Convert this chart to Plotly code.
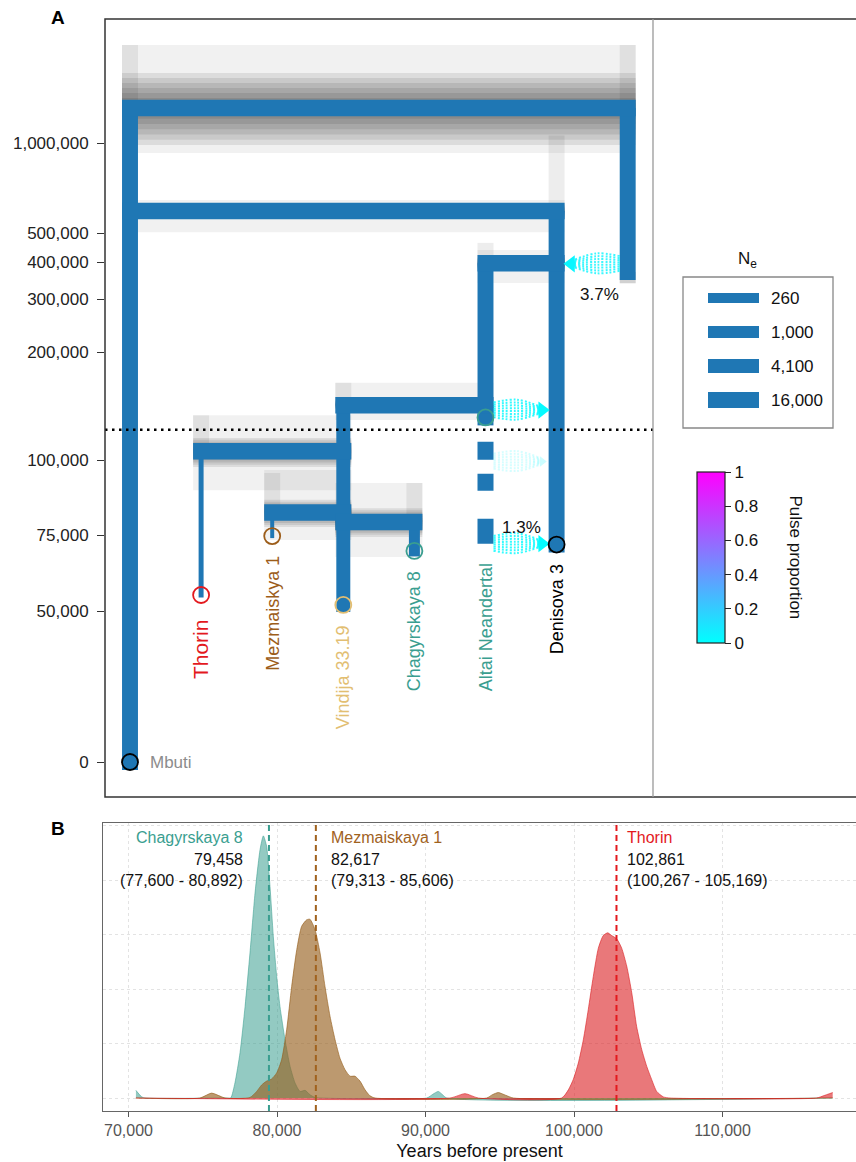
import math
import plotly.graph_objects as go

W, H = 856, 1162
FONT = "Liberation Sans, Arial, Helvetica, sans-serif"
BLUE = "#1F77B4"

# ---------------- Panel A data ----------------
# columns: 0 Mbuti, 1 Thorin, 2 Mezmaiskya 1, 3 Vindija 33.19, 4 Chagyrskaya 8,
#          5 Altai Neandertal, 6 Denisova 3, 7 ghost
lin_col = [0, 7, 6, 5, 5, 3, 1, 2, 4]
lin_start = [1310000, 1310000, 593000, 397000, 133000, 133000, 102861, 82617, 79458]
lin_end = [0, 371000, 72000, 133000, 121000, 52000, 55300, 74800, 69900]
lin_ne = [16000, 16000, 16000, 16000, 16000, 4100, 8, 4, 520]

altai_tail_start = 121000
altai_tail_end = 72300

split_time = [1310000, 593000, 397000, 133000, 102861, 82617, 79458]
split_left = [0, 0, 5, 3, 1, 2, 3]
split_right = [7, 6, 6, 5, 3, 3, 4]
unc_hi = [2130000, 646000, 439000, 158000, 123000, 96700, 92400]
unc_lo = [927000, 504000, 341000, 118600, 90000, 73500, 67900]
core_hi = [1716000, 625000, 415000, 138000, 107300, 86800, 84000]
core_lo = [986000, 565000, 380000, 129000, 97700, 77800, 74500]
child_cols = [[0, 7], [6], [5], [3], [1], [2], [4]]
child_hi = [2130000, 1060000, 464000, 158000, 123000, 95700, 92400]
ghost_end_lo = 340000

sample_names = ["Mbuti", "Thorin", "Mezmaiskya 1", "Vindija 33.19",
                "Chagyrskaya 8", "Altai Neandertal", "Denisova 3"]
sample_col = [0, 1, 2, 3, 4, 5, 6]
sample_time = [0, 55300, 74800, 52000, 69900, 121000, 72000]
sample_color = ["#000000", "#E3191E", "#9C5D1A", "#E2BE72", "#3A9E90", "#3A9E90", "#000000"]
label_color = ["#8C8C8C", "#E3191E", "#9C5D1A", "#E2BE72", "#3A9E90", "#3A9E90", "#000000"]

pulse_src = [7, 5, 5, 5]
pulse_dst = [6, 6, 6, 6]
pulse_time = [395000, 128000, 99500, 72300]
pulse_prop = [0.037, 0.02, 0.02, 0.013]
pulse_label = ["3.7%", "", "", "1.3%"]
pulse_support = [1.0, 1.0, 0.2, 1.0]

ytick_vals = [0, 50000, 75000, 100000, 200000, 300000, 400000, 500000, 1000000]
ne_legend = [260, 1000, 4100, 16000]
pulse_ticks = [0, 0.2, 0.4, 0.6, 0.8, 1]

# ---------------- Panel B data ----------------
chag_x = [70500, 70890, 71110, 76610, 76880, 77170, 77510, 77850, 78180, 78520, 78860,
          79080, 79300, 79530, 79750, 79980, 80200, 80540, 80880, 81210, 81550, 81890,
          82220, 82560, 82900, 90080, 90500, 90860, 91150, 91430, 117420]
chag_y = [0.14, 0.02, 0.0, 0.0, 0.0, 0.28, 0.83, 1.68, 2.66, 3.76, 4.56,
          4.81, 4.62, 3.88, 2.97, 2.23, 1.68, 1.07, 0.58, 0.28, 0.12, 0.14,
          0.06, 0.01, 0.0, 0.0, 0.07, 0.12, 0.06, 0.0, 0.0]
mez_x = [70500, 74810, 75600, 76500, 78180, 78630, 78970, 79300, 79640, 79980, 80310,
         80650, 80990, 81330, 81660, 82000, 82220, 82560, 82900, 83230, 83570, 83910,
         84240, 84580, 84920, 85250, 85590, 85930, 86260, 86600, 94120, 94500, 94900,
         95400, 95920, 117420]
mez_y = [0, 0, 0.09, 0, 0.01, 0.12, 0.24, 0.31, 0.35, 0.46, 0.70,
         1.25, 2.05, 2.72, 3.15, 3.27, 3.28, 3.09, 2.66, 2.05, 1.50, 1.07,
         0.73, 0.52, 0.40, 0.40, 0.31, 0.15, 0.04, 0, 0, 0.06, 0.10,
         0.05, 0, 0]
thorin_x = [70500, 91650, 92660, 93560, 99170, 99620, 99950, 100290, 100630, 100960,
            101300, 101640, 101970, 102270, 102540, 102880, 103210, 103550, 103890,
            104220, 104560, 104900, 105230, 105570, 106020, 106470, 116340, 116790, 117420]
thorin_y = [0, 0, 0.08, 0, 0, 0.15, 0.34, 0.64, 1.07, 1.62,
            2.23, 2.75, 2.98, 3.03, 2.98, 2.92, 2.75, 2.42, 1.93,
            1.31, 0.89, 0.58, 0.34, 0.12, 0.02, 0, 0, 0.04, 0.10]

b_names = ["Chagyrskaya 8", "Mezmaiskaya 1", "Thorin"]
b_median = [79458, 82617, 102861]
b_ci = ["(77,600 - 80,892)", "(79,313 - 85,606)", "(100,267 - 105,169)"]
b_color = ["#3A9E90", "#A0621E", "#E3191E"]
b_fill = ["rgba(58,158,144,0.55)", "rgba(150,95,30,0.64)", "rgba(218,30,34,0.6)"]
b_xticks = [70000, 80000, 90000, 100000, 110000]

# ---------------- scales ----------------
PX_COL = 71.1        # pixels between lineage columns
def T(t):
    """linear below 110 ka, logarithmic above (units = pixels)"""
    if t <= 110000:
        return 3.02 * t / 1000.0
    return 332.2 + 299.0 * math.log10(t / 110000.0)

def ne_width(ne):
    return 10 + math.log2(ne / 260.0)

def pxp(x):
    return x / W

def pyp(y):
    return 1 - y / H

def fmt(v):
    return f"{v:,}"

def cool(v):
    r = int(round(255 * v)); g = int(round(255 * (1 - v)))
    return f"rgb({r},{g},255)"

fig = go.Figure()
shapes = []
annotations = []

HW = 8 / PX_COL   # half-width of a column in data units

# uncertainty shading
for i, t in enumerate(split_time):
    x0 = split_left[i] - HW
    x1 = split_right[i] + HW
    shapes.append(dict(type="rect", xref="x", yref="y", x0=x0, x1=x1,
                       y0=T(unc_lo[i]), y1=T(unc_hi[i]), layer="below",
                       fillcolor="rgba(0,0,0,0.055)", line_width=0))
    n = 7
    tc = T(t)
    for k in range(n):
        f = k / n
        ylo = T(core_lo[i]) + (tc - T(core_lo[i])) * f
        yhi = T(core_hi[i]) + (tc - T(core_hi[i])) * f
        shapes.append(dict(type="rect", xref="x", yref="y", x0=x0, x1=x1,
                           y0=ylo, y1=yhi, layer="below",
                           fillcolor="rgba(0,0,0,0.085)", line_width=0))
    for c in child_cols[i]:
        shapes.append(dict(type="rect", xref="x", yref="y", x0=c - HW, x1=c + HW,
                           y0=tc, y1=T(child_hi[i]), layer="below",
                           fillcolor="rgba(0,0,0,0.07)", line_width=0))
# fading end of ghost lineage
shapes.append(dict(type="rect", xref="x", yref="y", x0=7 - HW, x1=7 + HW,
                   y0=T(ghost_end_lo), y1=T(lin_end[1]), layer="below",
                   fillcolor="rgba(0,0,0,0.18)", line_width=0))

# vertical lineages
for c, ts, te, ne in zip(lin_col, lin_start, lin_end, lin_ne):
    w = ne_width(ne)
    fig.add_trace(go.Scatter(x=[c, c], y=[T(ts), T(te) - w / 2], mode="lines",
                             line=dict(color=BLUE, width=w), hoverinfo="skip",
                             showlegend=False, xaxis="x", yaxis="y"))
# Altai dashed continuation (drawn from the youngest end upward)
fig.add_trace(go.Scatter(x=[5, 5], y=[T(altai_tail_end), T(altai_tail_start)], mode="lines",
                         line=dict(color=BLUE, width=16,
                                   dash="25px,28px,17px,14px,18px,200px"),
                         hoverinfo="skip", showlegend=False, xaxis="x", yaxis="y"))
# horizontal split bars
for i, t in enumerate(split_time):
    fig.add_trace(go.Scatter(x=[split_left[i] - HW, split_right[i] + HW], y=[T(t), T(t)],
                             mode="lines", line=dict(color=BLUE, width=16.5),
                             hoverinfo="skip", showlegend=False, xaxis="x", yaxis="y"))

# pulses
for s, d, t, p, lab, sup in zip(pulse_src, pulse_dst, pulse_time, pulse_prop,
                                pulse_label, pulse_support):
    sgn = 1 if d > s else -1
    xs = s + sgn * HW
    xd = d - sgn * HW
    y = T(t)
    col = cool(p)
    tip = xd - sgn * 0.13
    for off in [-10, -7, -4, -1, 2, 5, 8, 11]:
        fig.add_trace(go.Scatter(x=[xs, (xs + tip) / 2, tip],
                                 y=[y + off * 0.7, y + off * 0.95, y + off * 0.35],
                                 mode="lines", line=dict(color=col, width=2, dash="2px,2px",
                                                         shape="spline"),
                                 opacity=0.8 * sup, hoverinfo="skip", showlegend=False,
                                 xaxis="x", yaxis="y"))
    fig.add_trace(go.Scatter(x=[xd - sgn * 0.09], y=[y], mode="markers",
                             marker=dict(symbol="triangle-right" if sgn > 0 else "triangle-left",
                                         size=15 if sup > 0.5 else 9, color=col,
                                         line=dict(width=0)),
                             opacity=sup, hoverinfo="skip", showlegend=False,
                             xaxis="x", yaxis="y"))
    if lab:
        annotations.append(dict(x=(s + d) / 2, y=y, xref="x", yref="y", text=lab,
                                showarrow=False, yanchor="middle", xanchor="center",
                                yshift=16 if sgn > 0 else -31,
                                xshift=0 if sgn > 0 else 7,
                                font=dict(size=17, color="#111", family=FONT)))

# dotted time-scale break line
shapes.append(dict(type="line", xref="paper", yref="y", x0=pxp(105), x1=pxp(653),
                   y0=T(110000), y1=T(110000),
                   line=dict(color="#000", width=2.5, dash="2.5px,4.5px")))

# samples
for nm, c, t, sc, lc in zip(sample_names, sample_col, sample_time, sample_color, label_color):
    filled = sc == "#000000"
    fig.add_trace(go.Scatter(
        x=[c], y=[T(t)], mode="markers",
        marker=dict(size=16, symbol="circle" if filled else "circle-open",
                    color=BLUE if filled else sc,
                    line=dict(color=sc, width=1.8)),
        hoverinfo="skip", showlegend=False, xaxis="x", yaxis="y"))
    if nm == "Mbuti":
        annotations.append(dict(x=c, y=T(t), xref="x", yref="y", text=nm, showarrow=False,
                                xanchor="left", yanchor="middle", xshift=18,
                                font=dict(size=17, color=lc, family=FONT)))
    else:
        low = altai_tail_end if nm == "Altai Neandertal" else t
        big = nm == "Thorin"
        annotations.append(dict(x=c, y=T(low), xref="x", yref="y", text=nm, showarrow=False,
                                textangle=-90, xanchor="center", yanchor="top",
                                yshift=-(22 if big else 18),
                                font=dict(size=21 if big else 18, color=lc, family=FONT)))

# colorbar for pulse proportion (dummy points outside view)
fig.add_trace(go.Scatter(
    x=[-5, -5], y=[-500, -500], mode="markers",
    marker=dict(color=[0, 1], cmin=0, cmax=1, size=1,
                colorscale=[[0, "#00FFFF"], [1, "#FF00FF"]], showscale=True,
                colorbar=dict(x=pxp(697), xanchor="left", y=pyp(557.5), yanchor="middle",
                              len=171 / H, lenmode="fraction", thickness=28,
                              xpad=0, ypad=0,
                              outlinecolor="#222", outlinewidth=1.2,
                              tickvals=pulse_ticks, ticktext=[f"{v:g}" for v in pulse_ticks],
                              ticks="outside", ticklen=6, tickcolor="#222",
                              tickfont=dict(size=17, color="#111", family=FONT))),
    hoverinfo="skip", showlegend=False, xaxis="x", yaxis="y"))
annotations.append(dict(x=pxp(795), y=pyp(557.5), xref="paper", yref="paper",
                        text="Pulse proportion", textangle=90, showarrow=False,
                        xanchor="center", yanchor="middle",
                        font=dict(size=17, color="#111", family=FONT)))

# Ne legend
shapes.append(dict(type="rect", xref="paper", yref="paper", x0=pxp(683), x1=pxp(833),
                   y0=pyp(428), y1=pyp(277), line=dict(color="#888", width=1.3)))
annotations.append(dict(x=pxp(747), y=pyp(260), xref="paper", yref="paper",
                        text="N<sub>e</sub>", showarrow=False, xanchor="center",
                        yanchor="middle",
                        font=dict(size=17, color="#111", family=FONT)))
for k, ne in enumerate(ne_legend):
    yc = 298 + 34 * k
    shapes.append(dict(type="line", xref="paper", yref="paper", x0=pxp(708), x1=pxp(759),
                       y0=pyp(yc), y1=pyp(yc), line=dict(color=BLUE, width=ne_width(ne))))
    annotations.append(dict(x=pxp(769), y=pyp(yc), xref="paper", yref="paper", text=fmt(ne),
                            showarrow=False, xanchor="left", yanchor="middle",
                            font=dict(size=17, color="#111", family=FONT)))

# panel A frame and divider
shapes.append(dict(type="rect", xref="paper", yref="paper", x0=pxp(105), x1=1.02,
                   y0=pyp(797), y1=pyp(19), line=dict(color="#333", width=1.5)))
shapes.append(dict(type="line", xref="paper", yref="paper", x0=pxp(653), x1=pxp(653),
                   y0=pyp(797), y1=pyp(19), line=dict(color="#999", width=1.3)))

# ---------------- Panel B ----------------
for xs_, ys_, nm, fc, lc in zip([chag_x, mez_x, thorin_x], [chag_y, mez_y, thorin_y],
                                b_names, b_fill, b_color):
    fig.add_trace(go.Scatter(x=xs_, y=ys_, mode="lines", fill="tozeroy", fillcolor=fc,
                             line=dict(color=fc, width=1, shape="spline", smoothing=0.6),
                             hoverinfo="skip", showlegend=False, xaxis="x2", yaxis="y2"))
for k, (nm, med, ci, c) in enumerate(zip(b_names, b_median, b_ci, b_color)):
    shapes.append(dict(type="line", xref="x2", yref="y2 domain", x0=med, x1=med, y0=0, y1=1,
                       line=dict(color=c, width=2, dash="6px,4px")))
    right = k == 0
    xa = "right" if right else "left"
    xs = -24 if right else (13 if k == 1 else 9)
    for txt, yy, col, sz in [(nm, 837, c, 16), (fmt(med), 859, "#111", 16), (ci, 880, "#111", 16)]:
        annotations.append(dict(x=med, y=pyp(yy), xref="x2", yref="paper", text=txt,
                                showarrow=False, xanchor=xa, yanchor="middle", xshift=xs,
                                font=dict(size=sz, color=col, family=FONT)))

annotations.append(dict(x=pxp(58), y=pyp(18), xref="paper", yref="paper", text="<b>A</b>",
                        showarrow=False, xanchor="center", yanchor="middle",
                        font=dict(size=19, color="#000", family=FONT)))
annotations.append(dict(x=pxp(58), y=pyp(828), xref="paper", yref="paper", text="<b>B</b>",
                        showarrow=False, xanchor="center", yanchor="middle",
                        font=dict(size=19, color="#000", family=FONT)))

fig.update_layout(
    width=W, height=H, margin=dict(l=0, r=0, t=0, b=0),
    paper_bgcolor="white", plot_bgcolor="white", showlegend=False,
    font=dict(family=FONT),
    xaxis=dict(domain=[pxp(105), pxp(653)], range=[(105 - 130) / PX_COL, (653 - 130) / PX_COL],
               visible=False, fixedrange=True),
    yaxis=dict(domain=[pyp(797), pyp(19)], range=[-35, 743], showgrid=False, zeroline=False,
               tickvals=[T(v) for v in ytick_vals], ticktext=[fmt(v) for v in ytick_vals],
               ticks="outside", ticklen=7, tickcolor="#333", tickwidth=1.2,
               ticklabelstandoff=5,
               tickfont=dict(size=17, color="#222", family=FONT), showline=False),
    xaxis2=dict(domain=[pxp(103), 1.0], range=[68283, 118990], anchor="y2",
                tickvals=b_xticks, ticktext=[fmt(v) for v in b_xticks],
                ticks="outside", ticklen=5, tickcolor="#555", tickwidth=1.2,
                tickfont=dict(size=16, color="#555", family=FONT),
                showline=True, mirror=True, linecolor="#666", linewidth=1.3,
                showgrid=True, gridcolor="#E3E3E3", griddash="dot", gridwidth=1,
                zeroline=False,
                title=dict(text="Years before present", standoff=6,
                           font=dict(size=18, color="#111", family=FONT))),
    yaxis2=dict(domain=[pyp(1111), pyp(823)], range=[-0.2385, 5.046], anchor="x2",
                tickvals=[0, 1, 2, 3, 4, 5], showticklabels=False, ticks="",
                showline=True, linecolor="#666", linewidth=1.3,
                showgrid=True, gridcolor="#E3E3E3", griddash="dot", gridwidth=1,
                zeroline=False),
    shapes=shapes, annotations=annotations,
)

fig.write_html("out.html", config={"displayModeBar": False},
               post_script="document.body.style.margin='0';document.body.style.overflow='hidden';")
